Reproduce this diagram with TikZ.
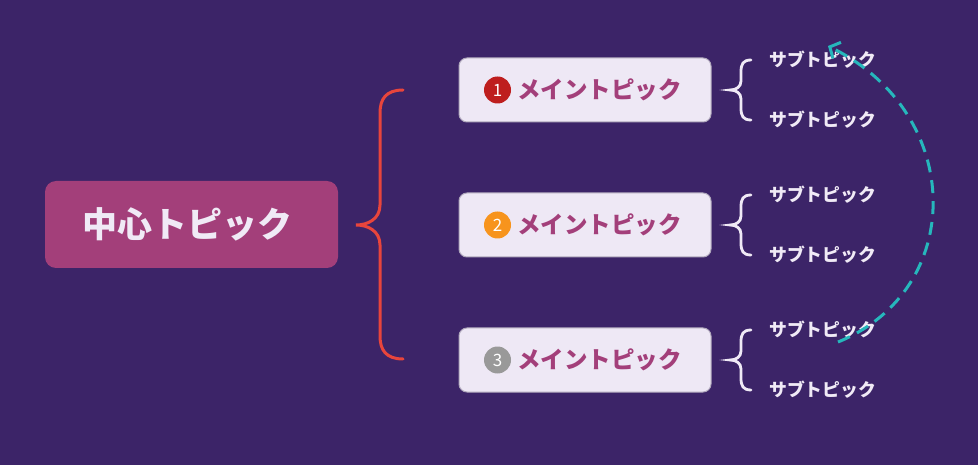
\documentclass[tikz,border=0pt]{standalone}
\usepackage{fontspec}
\usepackage{tikz}
\usepackage{tkz-euclide}
\usepackage{xcolor}
\usetikzlibrary{arrows.meta}
\newfontfamily\jpfont{Noto Sans CJK JP}
\definecolor{bgC}{RGB}{60,36,104}
\definecolor{coreC}{RGB}{163,63,122}
\definecolor{paleC}{RGB}{240,234,246}
\definecolor{boxC}{RGB}{238,232,245}
\definecolor{edgeC}{RGB}{176,168,188}
\definecolor{braceC}{RGB}{232,69,60}
\definecolor{oneC}{RGB}{190,30,30}
\definecolor{twoC}{RGB}{247,148,29}
\definecolor{threeC}{RGB}{153,153,153}
\definecolor{turnC}{RGB}{38,183,188}

\begin{document}
\begin{tikzpicture}[x=1pt,y=-1pt,
	core/.style={fill=coreC,rounded corners=11pt,minimum width=293pt,minimum height=87pt,text=paleC,font=\jpfont\bfseries\fontsize{35}{40}\selectfont},
	mainbox/.style={draw=edgeC,line width=1pt,fill=boxC,rounded corners=8pt,minimum width=252pt,minimum height=64pt},
	mainlab/.style={anchor=west,inner sep=0pt,text=coreC,font=\jpfont\bfseries\fontsize{23.5}{26}\selectfont},
	badge/.style={circle,inner sep=0pt,minimum size=27pt,text=white,font=\jpfont\fontsize{17}{20}\selectfont},
	sublab/.style={anchor=west,inner sep=0pt,text=paleC,font=\jpfont\bfseries\fontsize{17.8}{20}\selectfont},
	mainbrace/.style={draw=braceC,line width=3pt,line cap=round},
	subbrace/.style={draw=paleC,line width=2.8pt,line cap=round},
	turn/.style={draw=turnC,line width=3pt,dash pattern=on 13pt off 8pt,-{Straight Barb[length=8pt,width=18pt]}}]
	\fill[bgC] (0,0) rectangle (978,465);
	\tkzDefPoints{403/90/T,380/113/U,356/225/K,380/336/L,403/359/B}
	\tkzDefPoints{838/342/S,828/46/E}
	\node[core] (core) at (191.5,224.5) {\hspace*{-8pt}中心トピック};
	\node[mainbox] (main1) at (585,90) {};
	\node[mainbox] (main2) at (585,225) {};
	\node[mainbox] (main3) at (585,360) {};
	\node[badge,fill=oneC] (num1) at (497.5,90) {1};
	\node[badge,fill=twoC] (num2) at (497.5,225) {2};
	\node[badge,fill=threeC] (num3) at (497.5,360) {3};
	\node[mainlab] (lab1) at (517,90) {メイントピック};
	\node[mainlab] (lab2) at (517,225) {メイントピック};
	\node[mainlab] (lab3) at (517,360) {メイントピック};
	\node[sublab] (sub1a) at (769,60) {サブトピック};
	\node[sublab] (sub1b) at (769,120) {サブトピック};
	\node[sublab] (sub2a) at (769,195) {サブトピック};
	\node[sublab] (sub2b) at (769,255) {サブトピック};
	\node[sublab] (sub3a) at (769,330) {サブトピック};
	\node[sublab] (sub3b) at (769,390) {サブトピック};
	\draw[mainbrace] (T) .. controls +(-17,0) and +(0,-14) .. (U) -- (380,205) .. controls +(0,14) and +(12,0) .. (K)
		.. controls +(12,0) and +(0,-14) .. (380,245) -- (L) .. controls +(0,14) and +(-17,0) .. (B);
	\draw[subbrace] (751,60) .. controls +(-8,0) and +(0,-8) .. (741,72) -- (741,81) .. controls +(0,6) and +(6,0) .. (730,90)
		.. controls +(6,0) and +(0,-6) .. (741,99) -- (741,108) .. controls +(0,8) and +(-8,0) .. (751,120);
	\draw[subbrace] (751,195) .. controls +(-8,0) and +(0,-8) .. (741,207) -- (741,216) .. controls +(0,6) and +(6,0) .. (730,225)
		.. controls +(6,0) and +(0,-6) .. (741,234) -- (741,243) .. controls +(0,8) and +(-8,0) .. (751,255);
	\draw[subbrace] (751,330) .. controls +(-8,0) and +(0,-8) .. (741,342) -- (741,351) .. controls +(0,6) and +(6,0) .. (730,360)
		.. controls +(6,0) and +(0,-6) .. (741,369) -- (741,378) .. controls +(0,8) and +(-8,0) .. (751,390);
	\draw[turn] (S) .. controls (966,290) and (966,114) .. (E);
\end{tikzpicture}
\end{document}
